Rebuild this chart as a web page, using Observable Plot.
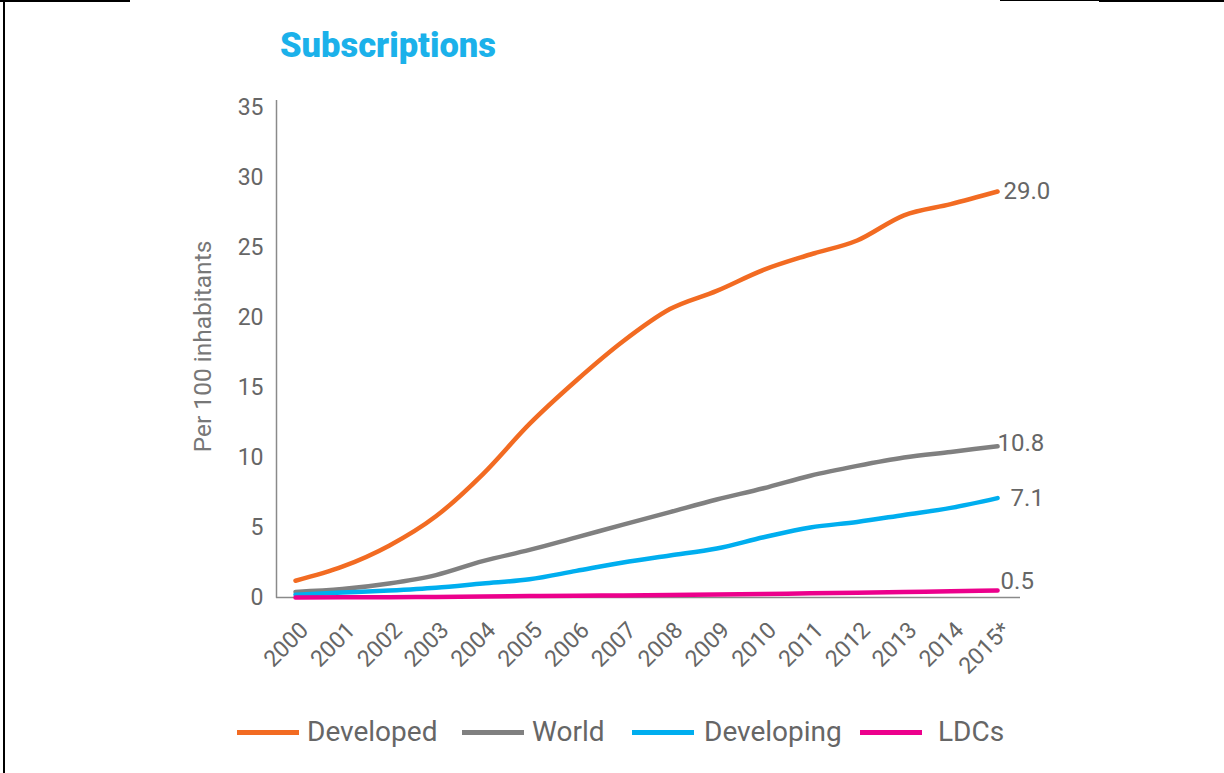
<!DOCTYPE html>
<html>
<head>
<meta charset="utf-8">
<script src="https://cdn.jsdelivr.net/npm/d3@7"></script>
<script src="https://cdn.jsdelivr.net/npm/@observablehq/plot@0.6"></script>
<style>
  html, body { margin: 0; padding: 0; background: #fff; }
  #page { position: relative; width: 1224px; height: 773px; overflow: hidden; font-family: Roboto, "Open Sans", sans-serif; }
  .bl { position: absolute; background: #000; }
  #title { height: 80px; box-sizing: border-box; padding-left: 280px; padding-top: 25px; font-size: 34.5px; font-weight: 900; color: #1bb1ea; line-height: 40px; }
  #chart svg { display: block; }
  #legend { position: relative; height: 73px; }
  .item { position: absolute; top: 16px; display: flex; align-items: center; font-size: 28px; color: #666; line-height: 32px; }
  .sw { width: 62px; height: 5px; margin-right: 8px; }
</style>
</head>
<body>
<div id="page">
  <div class="bl" style="left:0;top:0;width:130px;height:2px"></div>
  <div class="bl" style="left:1000px;top:0;width:100px;height:1px"></div>
  <div class="bl" style="left:1099px;top:0;width:125px;height:2px"></div>
  <div class="bl" style="left:3px;top:0;width:2px;height:773px"></div>
  <div id="title">Subscriptions</div>
  <div id="chart"></div>
  <div id="legend"></div>
</div>
<script>
const years = [2000, 2001, 2002, 2003, 2004, 2005, 2006, 2007, 2008, 2009, 2010, 2011, 2012, 2013, 2014, 2015];
const tickLabels = ["2000", "2001", "2002", "2003", "2004", "2005", "2006", "2007", "2008", "2009", "2010", "2011", "2012", "2013", "2014", "2015*"];
const seriesNames = ["Developed", "World", "Developing", "LDCs"];
const developed = [1.2, 2.2, 3.7, 5.8, 8.8, 12.4, 15.5, 18.3, 20.6, 21.9, 23.4, 24.5, 25.5, 27.3, 28.1, 29.0];
const world = [0.4, 0.6, 1.0, 1.6, 2.6, 3.4, 4.3, 5.2, 6.1, 7.0, 7.8, 8.7, 9.4, 10.0, 10.4, 10.8];
const developing = [0.2, 0.35, 0.5, 0.7, 1.0, 1.3, 1.9, 2.5, 3.0, 3.5, 4.3, 5.0, 5.4, 5.9, 6.4, 7.1];
const ldcs = [0.0, 0.01, 0.02, 0.04, 0.07, 0.1, 0.12, 0.15, 0.18, 0.21, 0.25, 0.3, 0.34, 0.39, 0.44, 0.5];
const yTicks = [0, 5, 10, 15, 20, 25, 30, 35];
const endLabels = ["29.0", "10.8", "7.1", "0.5"];

const colors = ["#f26b22", "#808080", "#00aeef", "#ec008c"];
const valuesBySeries = [developed, world, developing, ldcs];

const rows = [];
seriesNames.forEach((s, i) => years.forEach((y, j) => rows.push({series: s, year: y, value: valuesBySeries[i][j]})));
const lastRows = seriesNames.map((s, i) => ({series: s, year: years[years.length - 1], value: valuesBySeries[i][years.length - 1], label: endLabels[i]}));

const labelOffsets = {Developed: [6, 0], World: [0, -3], Developing: [13, 0], LDCs: [3, -9]};
const xMin = 1999.594, xMax = 2015.49;

const chart = Plot.plot({
  width: 1224,
  height: 620,
  marginLeft: 276,
  marginRight: 204,
  marginTop: 27,
  marginBottom: 103,
  style: {fontFamily: "Roboto, sans-serif", color: "#666", background: "transparent"},
  x: {domain: [xMin, xMax]},
  y: {domain: [0, 35]},
  color: {domain: seriesNames, range: colors},
  marks: [
    Plot.ruleX([xMin], {y1: -0.05, y2: 35.5, stroke: "#8a8a8a", strokeWidth: 1.5}),
    Plot.ruleY([0], {x1: xMin, x2: xMax, stroke: "#8a8a8a", strokeWidth: 1.5}),
    Plot.axisY({ticks: yTicks, tickSize: 0, tickPadding: 13, fontSize: 23, fill: "#666", label: null}),
    Plot.axisX({ticks: years, tickFormat: (d) => tickLabels[years.indexOf(d)], tickSize: 0, tickPadding: 8, tickRotate: -45, dx: 9, dy: 21, fontSize: 23, fill: "#666", label: null}),
    Plot.text(["Per 100 inhabitants"], {frameAnchor: "left", text: (d) => d, rotate: -90, textAnchor: "middle", dx: -73, dy: -6, fontSize: 24.5, fill: "#777"}),
    Plot.line(rows, {x: "year", y: "value", z: "series", stroke: "series", strokeWidth: 4.5, curve: "monotone-x"}),
    ...seriesNames.map((s) => Plot.text(lastRows.filter((d) => d.series === s), {x: "year", y: "value", text: "label", textAnchor: "start", dx: labelOffsets[s][0], dy: labelOffsets[s][1], fontSize: 24, fill: "#666"}))
  ]
});
document.getElementById("chart").appendChild(chart);

const legendX = [237, 462, 632, 860];
const legendGap = [8, 8, 10, 16];
const legend = document.getElementById("legend");
seriesNames.forEach((s, i) => {
  const item = document.createElement("div");
  item.className = "item";
  item.style.left = legendX[i] + "px";
  const sw = document.createElement("div");
  sw.className = "sw";
  sw.style.background = colors[i];
  sw.style.marginRight = legendGap[i] + "px";
  const t = document.createElement("span");
  t.textContent = s;
  item.appendChild(sw);
  item.appendChild(t);
  legend.appendChild(item);
});
</script>
</body>
</html>
